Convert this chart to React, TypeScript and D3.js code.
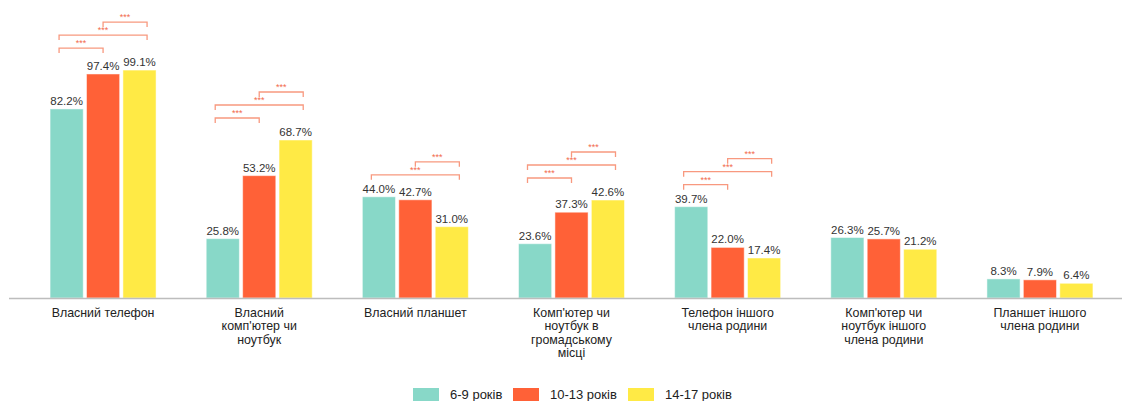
import React from "react";
import * as d3 from "d3";

const categories = [
  "Власний телефон",
  "Власний комп'ютер чи ноутбук",
  "Власний планшет",
  "Комп'ютер чи ноутбук в громадському місці",
  "Телефон іншого члена родини",
  "Комп'ютер чи ноутбук іншого члена родини",
  "Планшет іншого члена родини",
];
const categoryLines = [
  ["Власний телефон"],
  ["Власний", "комп'ютер чи", "ноутбук"],
  ["Власний планшет"],
  ["Комп'ютер чи", "ноутбук в", "громадському", "місці"],
  ["Телефон іншого", "члена родини"],
  ["Комп'ютер чи", "ноутбук іншого", "члена родини"],
  ["Планшет іншого", "члена родини"],
];
const seriesNames = ["6-9 років", "10-13 років", "14-17 років"];
const age6to9 = [82.2, 25.8, 44.0, 23.6, 39.7, 26.3, 8.3];
const age10to13 = [97.4, 53.2, 42.7, 37.3, 22.0, 25.7, 7.9];
const age14to17 = [99.1, 68.7, 31.0, 42.6, 17.4, 21.2, 6.4];
const seriesValues = [age6to9, age10to13, age14to17];
const colors = ["#88d8c8", "#ff6137", "#ffea45"];
// significance brackets: [from series, to series, level]
const brackets: [number, number, number][][] = [
  [[0, 1, 0], [0, 2, 1], [1, 2, 2]],
  [[0, 1, 0], [0, 2, 1], [1, 2, 2]],
  [[0, 2, 0], [1, 2, 1]],
  [[0, 1, 0], [0, 2, 1], [1, 2, 2]],
  [[0, 1, 0], [0, 2, 1], [1, 2, 2]],
  [],
  [],
];

export default function App() {
  const W = 1122, H = 401;
  const baseline = 298;
  const x0 = d3.scaleBand<string>().domain(categories).range([25, 1118]).paddingInner(0).paddingOuter(0);
  const x1 = d3.scaleBand<number>().domain([0, 1, 2]).range([-53, 53]).paddingInner(0.09);
  const y = d3.scaleLinear().domain([0, 100]).range([baseline, 68]);
  const bw = x1.bandwidth();
  const bracketOffset = d3.scalePoint<number>().domain([0, 1, 2]).range([-44, 44]);

  return (
    <svg width={W} height={H} style={{ position: "absolute", left: 0, top: 0 }} fontFamily="'Liberation Sans', Arial, sans-serif">
      <rect width={W} height={H} fill="#fff" />
      {categories.map((c, ci) => {
        const cx = (x0(c) ?? 0) + x0.bandwidth() / 2;
        const maxV = d3.max(seriesValues.map((s) => s[ci])) ?? 0;
        const topY = y(maxV);
        return (
          <g key={c}>
            {seriesValues.map((s, si) => {
              const bx = cx + (x1(si) ?? 0);
              return (
                <g key={si}>
                  <rect x={bx} y={y(s[ci])} width={bw} height={baseline - y(s[ci])} fill={colors[si]} stroke="#fff" strokeOpacity={0.5} strokeWidth={1} />
                  <text x={bx + bw / 2} y={y(s[ci]) - 4} textAnchor="middle" fontSize={11.5} fill="#333">
                    {s[ci].toFixed(1)}%
                  </text>
                </g>
              );
            })}
            {brackets[ci].map(([a, b, lvl], bi) => {
              const by = topY - 22 - 13 * lvl;
              const xa = cx + (bracketOffset(a) ?? 0);
              const xb = cx + (bracketOffset(b) ?? 0);
              return (
                <g key={bi}>
                  <path d={`M${xa},${by + 5}V${by}H${xb}V${by + 5}`} fill="none" stroke="#f8997f" strokeWidth={1.3} />
                  <text x={(xa + xb) / 2} y={by - 2} textAnchor="middle" fontSize={9} fill="#f26a4c">***</text>
                </g>
              );
            })}
            {categoryLines[ci].map((ln, li) => (
              <text key={li} x={cx} y={317 + li * 13.3} textAnchor="middle" fontSize={12.4} fill="#222">{ln}</text>
            ))}
          </g>
        );
      })}
      <line x1={9} x2={W} y1={baseline + 0.5} y2={baseline + 0.5} stroke="#bdbdbd" strokeWidth={1.5} />
      {seriesNames.map((n, i) => {
        const lx = [413, 513, 628][i];
        return (
          <g key={n}>
            <rect x={lx} y={388} width={26} height={14} fill={colors[i]} />
            <text x={lx + 37} y={399} fontSize={13} fill="#222">{n}</text>
          </g>
        );
      })}
    </svg>
  );
}
